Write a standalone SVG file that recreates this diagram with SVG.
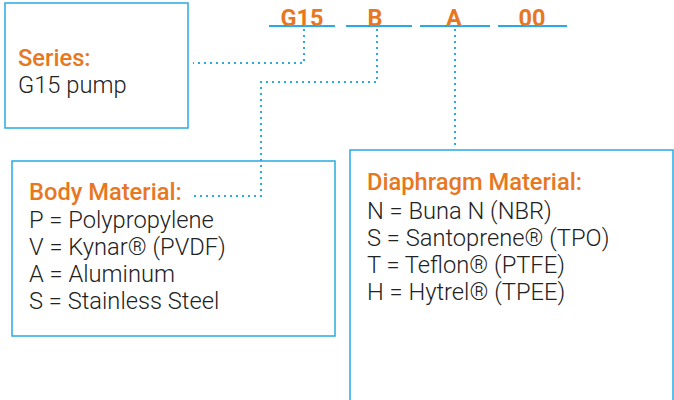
<svg xmlns="http://www.w3.org/2000/svg" width="674" height="400" viewBox="0 0 674 400">
<style>
.box{fill:#fff;stroke:#29abe2;stroke-width:1.5}
.ul{stroke:#29abe2;stroke-width:2}
.dot{fill:none;stroke:#29abe2;stroke-width:2;stroke-dasharray:2 4}
.hd{font-family:Roboto,"Liberation Sans",sans-serif;font-weight:500;font-size:23.7px;fill:#e87722}
.code{font-family:Roboto,"Liberation Sans",sans-serif;font-weight:700;font-size:23.5px;fill:#e87722;text-anchor:middle}
.tx{font-family:Roboto,"Liberation Sans",sans-serif;font-weight:300;font-size:23.7px;fill:#222}
</style>
<rect width="674" height="400" fill="#fff"/>
<g id="series">
<rect class="box" x="5" y="3" width="183" height="125"/>
<text class="hd" x="18" y="66">Series:</text>
<text class="tx" x="18" y="93">G15 pump</text>
</g>
<g id="body">
<rect class="box" x="12" y="161" width="323" height="175"/>
<text class="hd" x="29" y="200">Body Material:</text>
<text class="tx" x="29" y="228">P = Polypropylene</text>
<text class="tx" x="29" y="255">V = Kynar® (PVDF)</text>
<text class="tx" x="29" y="282">A = Aluminum</text>
<text class="tx" x="29" y="309">S = Stainless Steel</text>
</g>
<g id="diaphragm">
<rect class="box" x="350" y="150" width="323" height="260"/>
<text class="hd" x="367" y="190">Diaphragm Material:</text>
<text class="tx" x="367" y="219">N = Buna N (NBR)</text>
<text class="tx" x="367" y="246">S = Santoprene® (TPO)</text>
<text class="tx" x="367" y="273">T = Teflon® (PTFE)</text>
<text class="tx" x="367" y="300">H = Hytrel® (TPEE)</text>
</g>
<g id="code">
<line class="ul" x1="269" y1="26" x2="335" y2="26"/>
<line class="ul" x1="346" y1="26" x2="412" y2="26"/>
<line class="ul" x1="420" y1="26" x2="490" y2="26"/>
<line class="ul" x1="498" y1="26" x2="567" y2="26"/>
<text class="code" x="302" y="26">G15</text>
<text class="code" x="375" y="26">B</text>
<text class="code" x="454" y="26">A</text>
<text class="code" x="532" y="26">00</text>
</g>
<g id="connectors">
<path class="dot" d="M304 29 V63 H193"/>
<path class="dot" d="M377 29 V82 H261 V196 H192"/>
<path class="dot" d="M455 29 V148"/>
</g>
</svg>
